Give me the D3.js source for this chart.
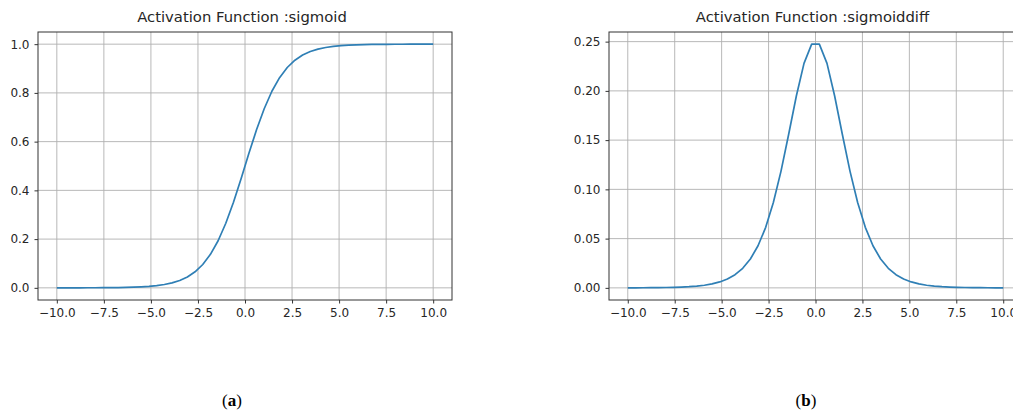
<!DOCTYPE html>
<html><head><meta charset="utf-8">
<script src="https://cdn.jsdelivr.net/npm/d3@7"></script>
<style>body{margin:0;background:#fff;overflow:hidden}svg{display:block}</style>
</head><body>
<script>
const xValues = [-10,-9.5918,-9.1837,-8.7755,-8.3673,-7.9592,-7.5510,-7.1429,-6.7347,-6.3265,-5.9184,-5.5102,-5.1020,-4.6939,-4.2857,-3.8776,-3.4694,-3.0612,-2.6531,-2.2449,-1.8367,-1.4286,-1.0204,-0.6122,-0.2041,
0.2041,0.6122,1.0204,1.4286,1.8367,2.2449,2.6531,3.0612,3.4694,3.8776,4.2857,4.6939,5.1020,5.5102,5.9184,6.3265,6.7347,7.1429,7.5510,7.9592,8.3673,8.7755,9.1837,9.5918,10];
const sigmoidValues = [0.0000454,0.0000683,0.0001027,0.0001544,0.0002322,0.0003492,0.0005251,0.0007896,0.0011872,0.0017845,0.0026817,0.0040280,0.0060461,0.0090662,0.013574,0.020278,0.030191,0.044730,0.065793,0.095784,0.13743,0.19333,0.26497,0.35154,0.44915,
0.55085,0.64846,0.73503,0.80667,0.86257,0.90422,0.93421,0.95527,0.96981,0.97972,0.98643,0.99093,0.99395,0.99597,0.99732,0.99822,0.99881,0.99921,0.99947,0.99965,0.99977,0.99985,0.99990,0.99993,0.99995];
const sigmoidDiffValues = [0.0000454,0.0000683,0.0001027,0.0001544,0.0002321,0.0003491,0.0005248,0.0007890,0.0011858,0.0017813,0.0026745,0.0040118,0.0060095,0.0089840,0.013390,0.019867,0.029280,0.042729,0.061464,0.086609,0.11854,0.15595,0.19476,0.22796,0.24741,
0.24741,0.22796,0.19476,0.15595,0.11854,0.086609,0.061464,0.042729,0.029280,0.019867,0.013390,0.0089840,0.0060095,0.0040118,0.0026745,0.0017813,0.0011858,0.0007890,0.0005248,0.0003491,0.0002321,0.0001544,0.0001027,0.0000683,0.0000454];
const xTicks = [-10,-7.5,-5,-2.5,0,2.5,5,7.5,10];
const yTicksA = [0,0.2,0.4,0.6,0.8,1.0];
const yTicksB = [0,0.05,0.10,0.15,0.20,0.25];
const titles = ["Activation Function :sigmoid","Activation Function :sigmoiddiff"];
const captions = ["a","b"];

const W = 1013, H = 413;
const svg = d3.select("body").append("svg").attr("width", W).attr("height", H);
const font = "DejaVu Sans, sans-serif";

function panel(cfg){
  const {left, right, top, bottom, ys, yTicks, yFmt, title, cap, capX} = cfg;
  const g = svg.append("g");
  const ymin = d3.min(ys), ymax = d3.max(ys), pad = (ymax - ymin) * 0.05;
  const x = d3.scaleLinear().domain([-11, 11]).range([left, right]);
  const y = d3.scaleLinear().domain([ymin - pad, ymax + pad]).range([bottom, top]);
  g.selectAll(".gx").data(xTicks).join("line")
    .attr("x1", d => x(d)).attr("x2", d => x(d)).attr("y1", top).attr("y2", bottom)
    .attr("stroke", "#b0b0b0").attr("stroke-width", 0.9);
  g.selectAll(".gy").data(yTicks).join("line")
    .attr("x1", left).attr("x2", right).attr("y1", d => y(d)).attr("y2", d => y(d))
    .attr("stroke", "#b0b0b0").attr("stroke-width", 0.9);
  const line = d3.line().x((d,i) => x(xValues[i])).y(d => y(d));
  g.append("path").datum(ys).attr("d", line).attr("fill", "none")
    .attr("stroke", "#2f7fb5").attr("stroke-width", 1.7).attr("stroke-linejoin","round");
  const xa = g.append("g").attr("transform", `translate(0,${bottom})`)
    .call(d3.axisBottom(x).tickValues(xTicks).tickSize(3.5).tickPadding(5).tickFormat(d3.format(".1f")));
  const ya = g.append("g").attr("transform", `translate(${left},0)`)
    .call(d3.axisLeft(y).tickValues(yTicks).tickSize(3.5).tickPadding(5).tickFormat(d3.format(yFmt)));
  [xa, ya].forEach(a => {
    a.select(".domain").remove();
    a.selectAll("line").attr("stroke", "#333");
    a.selectAll("text").attr("font-family", font).attr("font-size", 12).attr("fill", "#262626");
  });
  xa.selectAll("text").text(d => d3.format(".1f")(d).replace("-", "\u2212"));
  g.append("rect").attr("x", left).attr("y", top).attr("width", right - left).attr("height", bottom - top)
    .attr("fill", "none").attr("stroke", "#333").attr("stroke-width", 1);
  g.append("text").attr("x", (left + right) / 2 - 3).attr("y", 22).attr("text-anchor", "middle")
    .attr("font-family", font).attr("font-size", 14.8).attr("fill", "#262626").text(title);
  const c = g.append("text").attr("x", capX).attr("y", 406).attr("text-anchor", "middle")
    .attr("font-family", "Liberation Serif, serif").attr("font-size", 17).attr("fill", "#000");
  c.append("tspan").text("(");
  c.append("tspan").attr("font-weight", "bold").text(cap);
  c.append("tspan").text(")");
}

panel({left: 38, right: 452, top: 32, bottom: 300, ys: sigmoidValues, yTicks: yTicksA, yFmt: ".1f", title: titles[0], cap: captions[0], capX: 232});
panel({left: 609, right: 1022, top: 32, bottom: 300, ys: sigmoidDiffValues, yTicks: yTicksB, yFmt: ".2f", title: titles[1], cap: captions[1], capX: 806});
</script>
</body></html>
